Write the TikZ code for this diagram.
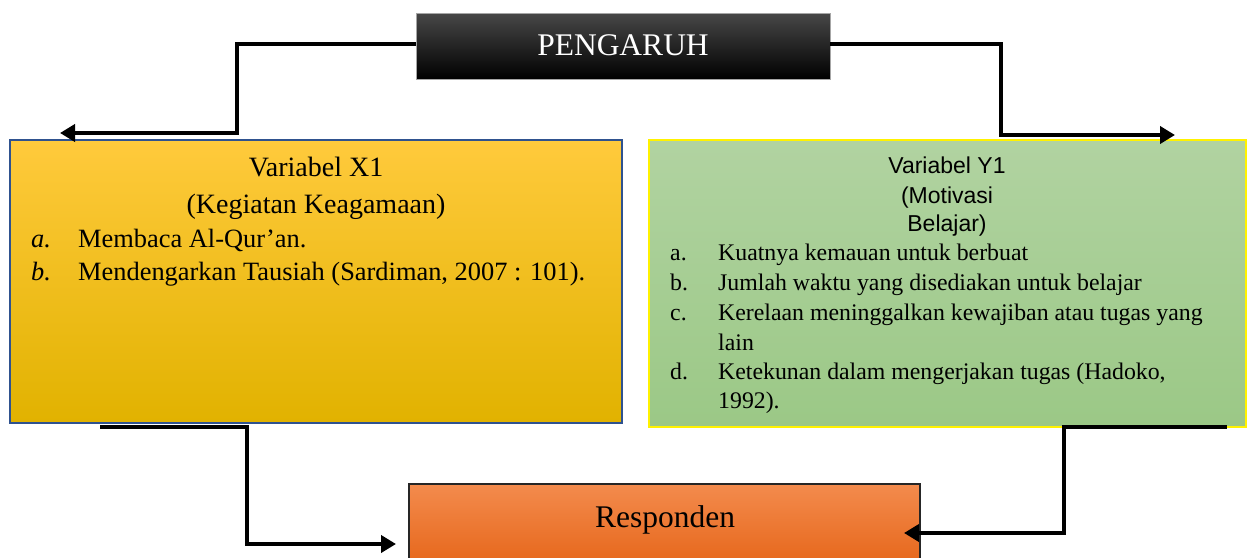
\documentclass[tikz,border=0pt]{standalone}
\usepackage{fontspec}
\setmainfont{Liberation Serif}
\newfontfamily\arialf{Liberation Sans}
\usetikzlibrary{arrows.meta,calc}
\definecolor{xtop}{RGB}{255,202,60}
\definecolor{xmid}{RGB}{250,192,0}
\definecolor{xbot}{RGB}{225,178,0}
\definecolor{xborder}{RGB}{47,82,143}
\definecolor{gtop}{RGB}{177,211,161}
\definecolor{gbot}{RGB}{155,200,134}
\definecolor{otop}{RGB}{243,139,77}
\definecolor{obot}{RGB}{230,102,26}
\definecolor{oborder}{RGB}{38,38,38}
\begin{document}
\begin{tikzpicture}[x=1pt,y=-1pt,
  conn/.style={line width=4pt, black},
  tipped/.style={conn, -{Triangle[length=15pt,width=17pt]}},
  box/.style={anchor=north west, inner sep=0pt, outer sep=0pt},
  ttl/.style={anchor=base, inner sep=0pt, font=\fontsize{28}{32}\selectfont},
  ytl/.style={anchor=base, inner sep=0pt, font=\arialf\fontsize{23}{27}\selectfont},
  xitem/.style={anchor=base west, inner sep=0pt, font=\fontsize{26.4}{30}\selectfont},
  yitem/.style={anchor=base west, inner sep=0pt, font=\fontsize{23.8}{28}\selectfont},
  big/.style={anchor=base, inner sep=0pt, font=\fontsize{31.5}{36}\selectfont}]
\clip (0,0) rectangle (1249,557);

% boxes
\node[box, minimum width=414pt, minimum height=66pt, draw=gray!70, line width=1pt,
  top color=black!72, middle color=black, bottom color=black] (peng) at (416,13) {};
\node[box, minimum width=612pt, minimum height=283pt, draw=xborder, line width=1.2pt,
  top color=xtop, middle color=xmid, bottom color=xbot] (x1) at (10,140) {};
\node[box, minimum width=597pt, minimum height=287pt, draw=yellow, line width=1.5pt,
  top color=gtop, bottom color=gbot] (y1) at (649,140) {};
\node[box, minimum width=511pt, minimum height=82pt, draw=oborder, line width=1.5pt,
  top color=otop, bottom color=obot] (resp) at (409,484) {};

% texts
\node[big, white] (pengt) at (623,55) {PENGARUH};
\node[big] (respt) at (665,527) {Responden};

\node[ttl] (x1t1) at (316,176) {Variabel X1};
\node[ttl] (x1t2) at (316,213) {(Kegiatan Keagamaan)};
\node[xitem] (x1la) at (31,247) {\itshape a.};
\node[xitem] (x1a) at (78,247) {Membaca Al-Qur’an.};
\node[xitem] (x1lb) at (31,280) {\itshape b.};
\node[xitem] (x1b) at (78,280) {Mendengarkan Tausiah (Sardiman, 2007 : 101).};

\node[ytl] (y1t1) at (947,173) {Variabel Y1};
\node[ytl] (y1t2) at (947,203) {(Motivasi};
\node[ytl] (y1t3) at (947,231) {Belajar)};
\node[yitem] (y1la) at (670,260) {a.};
\node[yitem] (y1a) at (718,260) {Kuatnya kemauan untuk berbuat};
\node[yitem] (y1lb) at (670,290) {b.};
\node[yitem] (y1b) at (718,290) {Jumlah waktu yang disediakan untuk belajar};
\node[yitem] (y1lc) at (670,320) {c.};
\node[yitem] (y1c) at (718,320) {Kerelaan meninggalkan kewajiban atau tugas yang};
\node[yitem] (y1c2) at (718,350) {lain};
\node[yitem] (y1ld) at (670,379) {d.};
\node[yitem] (y1d) at (718,379) {Ketekunan dalam mengerjakan tugas (Hadoko,};
\node[yitem] (y1d2) at (718,408) {1992).};

% connectors
\coordinate (lt) at (60,133);
\coordinate (rt) at (1175,135);
\coordinate (bls) at (100,427);
\coordinate (brs) at (1227,427);
\draw[tipped] ([yshift=2pt]peng.west) -- ++(-179,0) |- (lt);
\draw[tipped] ([yshift=2pt]peng.east) -- ++(171,0) |- (rt);
\draw[tipped] (bls) -- (247,427) |- ([xshift=-13pt,yshift=-19pt]resp.west);
\draw[tipped] (brs) -- (1064,427) |- ([xshift=-16pt,yshift=-8pt]resp.east);
\end{tikzpicture}
\end{document}
